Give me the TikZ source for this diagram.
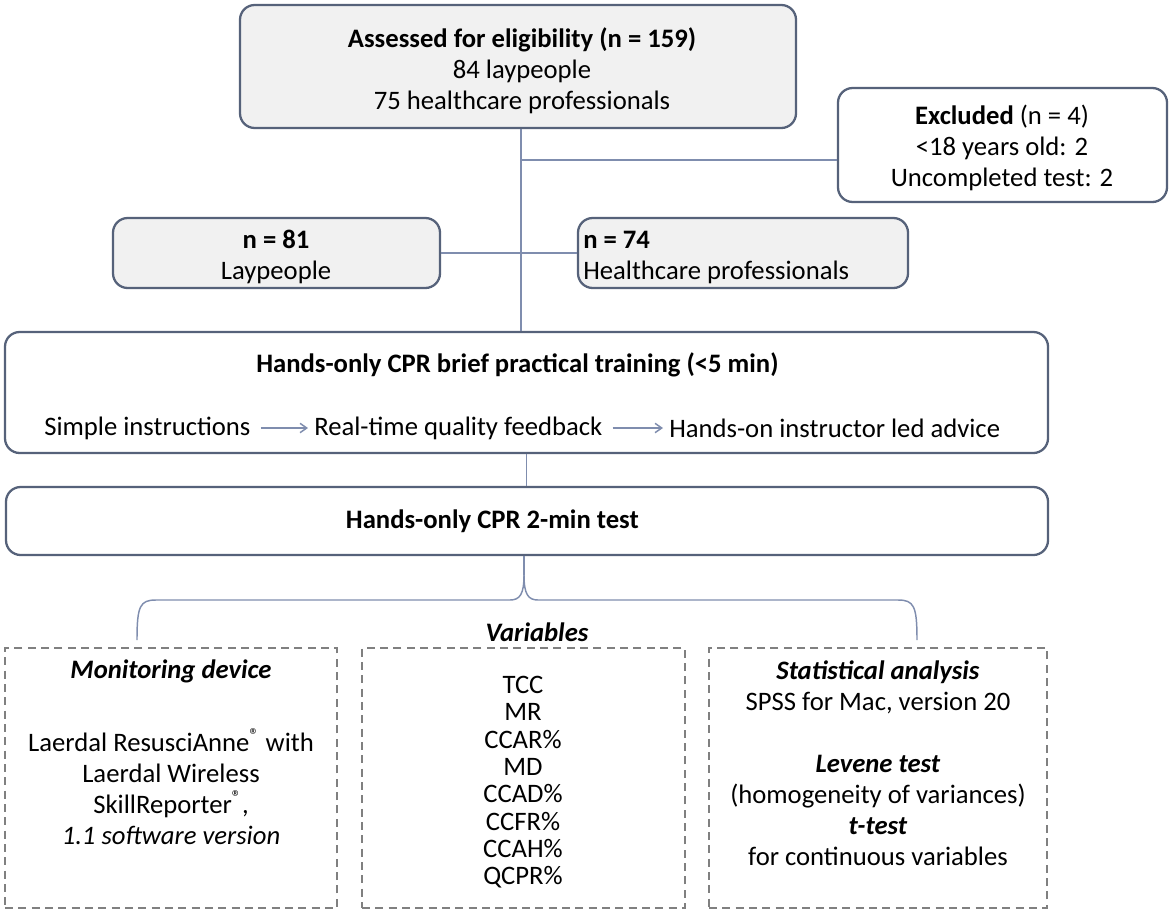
\documentclass[tikz,border=0pt]{standalone}
\usepackage{fontspec}
\setmainfont{Carlito}
\usetikzlibrary{fit,arrows.meta}
\definecolor{edgec}{HTML}{56627A}
\definecolor{connc}{HTML}{7F8DAE}
\definecolor{boxfill}{HTML}{F1F1F1}
\definecolor{dashc}{HTML}{808080}
\begin{document}
\begin{tikzpicture}[x=0.75pt,y=-0.75pt,
  font=\fontsize{20}{23.25}\selectfont,
  rbox/.style={draw=edgec, line width=1.7pt, rounded corners=11pt, inner sep=0pt},
  gbox/.style={rbox, fill=boxfill},
  wbox/.style={rbox, fill=white},
  dbox/.style={draw=dashc, line width=1.2pt, dash pattern=on 6pt off 4pt, inner sep=0pt},
  conn/.style={draw=connc, line width=1.1pt},
  txt/.style={align=center, inner sep=0pt},
  ltxt/.style={align=left, inner sep=0pt},
  flowarrow/.style={conn, -{Straight Barb[length=5pt,width=7pt]}, shorten <=7.5pt, shorten >=4.5pt}
]
\useasboundingbox (0,0) rectangle (1171,914);

% boxes
\node[gbox, fit={(240,5)(796,128)}] (top) {};
\node[wbox, fit={(838,88)(1167,202)}] (excl) {};
\node[gbox, fit={(113,218)(440,288)}] (n81) {};
\node[gbox, fit={(578,218)(908,288)}] (n74) {};
\node[wbox, fit={(5,332)(1048,453)}] (train) {};
\node[wbox, fit={(6,487)(1048,555)}] (test) {};
\node[dbox, fit={(5,648)(337,908)}] (mon) {};
\node[dbox, fit={(362,648)(685,908)}] (vars) {};
\node[dbox, fit={(709,648)(1047,908)}] (stats) {};

% texts
\node[txt] (toptxt) at (522,71) {\textbf{Assessed for eligibility (n = 159)}\\84 laypeople\\75 healthcare professionals};
\node[txt] (excltxt) at (1002,148) {\textbf{Excluded} (n = 4)\\<18 years old: 2\\Uncompleted test: 2};
\node[txt] (n81txt) at (276,257) {\textbf{n = 81}\\Laypeople};
\node[ltxt, anchor=west] (n74txt) at (583,257) {\textbf{n = 74}\\Healthcare professionals};
\node[txt, anchor=west] (traintxt) at (256,365) {\textbf{Hands-only CPR brief practical training (<5 min)}};
\node[txt, anchor=west] (s1) at (44,428) {Simple instructions};
\node[txt, anchor=west] (s2) at (314,428) {Real-time quality feedback};
\node[txt, anchor=west] (s3) at (669,428) {Hands-on instructor led advice};
\node[txt, anchor=east] (testtxt) at (639,521) {\textbf{Hands-only CPR 2-min test}};
\node[txt] (varlabel) at (537,632) {\textbf{\textit{Variables}}};

\node[txt, anchor=north] (montxt) at (171,660) {\textbf{\textit{Monitoring device}}\\[31pt]
  Laerdal ResusciAnne\textsuperscript{®} with\\Laerdal Wireless\\SkillReporter\textsuperscript{®},\\\textit{1.1 software version}};
\node[txt, anchor=north, font=\fontsize{20}{20.5}\selectfont] (vartxt) at (523,676) {TCC\\MR\\CCAR\%\\MD\\CCAD\%\\CCFR\%\\CCAH\%\\QCPR\%};
\node[txt, anchor=north] (stattxt) at (878,660) {\textbf{\textit{Statistical analysis}}\\SPSS for Mac, version 20\\[23.25pt]
  \textbf{\textit{Levene test}}\\(homogeneity of variances)\\\textbf{\textit{t-test}}\\for continuous variables};

% connectors
\coordinate (j1) at (521,160);
\draw[conn] (top.south) ++(3,0) coordinate (tb) -- (tb |- train.north);
\draw[conn] (j1) -- (j1 -| excl.west);
\draw[conn] (n81.east) -- (n74.west);
\draw[conn] (train.south) -- (train.south |- test.north);
\draw[flowarrow] (s1.east) -- (s2.west);
\draw[flowarrow] (s2.east) -- (s3.west);

% brace
\coordinate (bl) at (137,640);
\coordinate (br) at (917,640);
\coordinate (bc) at (524,575);
\draw[conn] (bl) .. controls (137,606) and (140,600) .. (156,600) -- (510,600)
  .. controls (520,600) and (524,594) .. (bc);
\draw[conn] (br) .. controls (917,606) and (914,600) .. (898,600) -- (538,600)
  .. controls (528,600) and (524,594) .. (bc);
\draw[conn] (bc) -- (bc |- test.south);
\end{tikzpicture}
\end{document}
